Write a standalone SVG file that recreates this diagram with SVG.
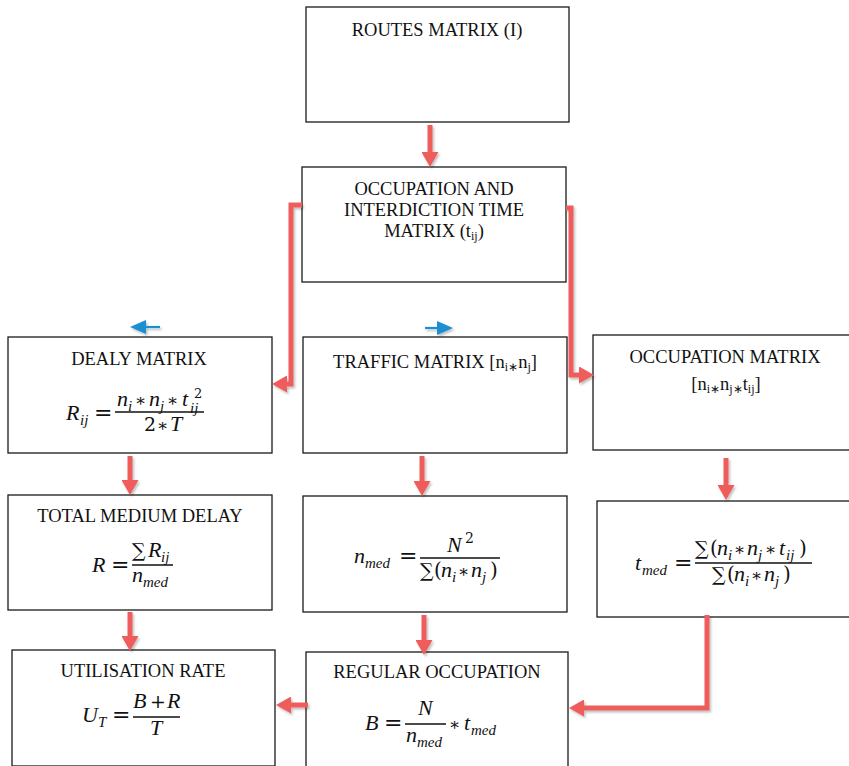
<svg xmlns="http://www.w3.org/2000/svg" width="849" height="766" viewBox="0 0 849 766">
<style>
.box{fill:#fff;stroke:#1a1a1a;stroke-width:1.3}
.lbl{font-family:"Liberation Serif","Times New Roman",serif;font-size:18.5px;fill:#111;text-anchor:middle}
.ls{font-size:12px}
.m{font-family:"Liberation Serif","Times New Roman",serif;font-style:italic;font-size:22px;fill:#111}
.s{font-size:15px}
.up{font-family:"DejaVu Serif",serif;font-style:normal;fill:#111}
.ast{font-family:"DejaVu Serif",serif;font-style:normal;font-size:17px;fill:#111}
.op{font-family:"DejaVu Serif",serif;font-size:22px;fill:#111}
.bar{stroke:#111;stroke-width:1.6}
.red{fill:none;stroke:#ee5c5c;stroke-width:5;marker-end:url(#rh)}
.blue{fill:none;stroke:#1a8fd0;stroke-width:2.2;marker-end:url(#bh)}
</style>
<defs>
<marker id="rh" markerUnits="userSpaceOnUse" markerWidth="15" markerHeight="17" refX="6" refY="8.5" orient="auto"><path d="M0,0 L15,8.5 L0,17 z" fill="#ee5c5c"/></marker>
<marker id="bh" markerUnits="userSpaceOnUse" markerWidth="16" markerHeight="14" refX="4" refY="7" orient="auto"><path d="M0,0 L16,7 L0,14 z" fill="#1a8fd0"/></marker>
<filter id="sh" x="-20%" y="-20%" width="140%" height="140%"><feDropShadow dx="1.5" dy="2" stdDeviation="1.2" flood-color="#000" flood-opacity="0.25"/></filter>
</defs>

<g id="routes">
<rect class="box" x="306" y="7" width="263" height="115"/>
<text class="lbl" x="437" y="36">ROUTES MATRIX (I)</text>
</g>

<g id="occupation-interdiction">
<rect class="box" x="302" y="167" width="264" height="115"/>
<text class="lbl" x="434" y="195">OCCUPATION AND</text>
<text class="lbl" x="434" y="216">INTERDICTION TIME</text>
<text class="lbl" x="434" y="237">MATRIX (t<tspan class="ls" dy="3">ij</tspan><tspan dy="-3">)</tspan></text>
</g>

<g id="dealy">
<rect class="box" x="8" y="337" width="264" height="116"/>
<text class="lbl" x="139" y="365">DEALY MATRIX</text>
<text class="m" x="66" y="420">R<tspan class="s" x="80" y="425">ij</tspan></text>
<text class="op" x="94" y="420">=</text>
<line class="bar" x1="115" y1="412" x2="204" y2="412"/>
<text class="m" y="406"><tspan x="117">n</tspan><tspan class="s" x="128" y="411">i</tspan><tspan class="ast" x="135" y="406">∗</tspan><tspan x="149">n</tspan><tspan class="s" x="160" y="411">j</tspan><tspan class="ast" x="167" y="406">∗</tspan><tspan x="182">t</tspan><tspan class="s" x="190" y="413">ij</tspan></text>
<text class="up" x="194" y="398" style="font-size:13px">2</text>
<text class="m" y="431"><tspan class="up" x="144" style="font-size:19px">2</tspan><tspan class="ast" x="157">∗</tspan><tspan x="170">T</tspan></text>
</g>

<g id="traffic">
<rect class="box" x="303" y="337" width="264" height="116"/>
<text class="lbl" x="435" y="368">TRAFFIC MATRIX [n<tspan class="ls" dy="3">i∗</tspan><tspan dy="-3">n</tspan><tspan class="ls" dy="3">j</tspan><tspan dy="-3">]</tspan></text>
</g>

<g id="occupation-matrix">
<rect class="box" x="593" y="335" width="262" height="115"/>
<text class="lbl" x="725" y="363">OCCUPATION MATRIX</text>
<text class="lbl" x="726" y="390">[n<tspan class="ls" dy="3">i∗</tspan><tspan dy="-3">n</tspan><tspan class="ls" dy="3">j∗</tspan><tspan dy="-3">t</tspan><tspan class="ls" dy="3">ij</tspan><tspan dy="-3">]</tspan></text>
</g>

<g id="total-delay">
<rect class="box" x="8" y="495" width="264" height="115"/>
<text class="lbl" x="140" y="522">TOTAL MEDIUM DELAY</text>
<text class="m" x="92" y="572">R</text>
<text class="op" x="111" y="572">=</text>
<line class="bar" x1="132" y1="565" x2="173" y2="565"/>
<text class="m" y="557"><tspan class="up" x="132" style="font-size:19px">∑</tspan><tspan x="148">R</tspan><tspan class="s" x="161" y="562">ij</tspan></text>
<text class="m" x="132" y="582">n<tspan class="s" x="143" y="587">med</tspan></text>
</g>

<g id="n-med">
<rect class="box" x="303" y="496" width="264" height="116"/>
<text class="m" x="354" y="563">n<tspan class="s" x="365" y="568">med</tspan></text>
<text class="op" x="399" y="563">=</text>
<line class="bar" x1="420" y1="558" x2="500" y2="558"/>
<text class="m" x="447" y="552">N</text>
<text class="up" x="465" y="543" style="font-size:14px">2</text>
<text class="m" y="577"><tspan class="up" x="420" style="font-size:19px">∑</tspan><tspan class="up" x="434" style="font-size:20px">(</tspan><tspan x="441">n</tspan><tspan class="s" x="452" y="582">i</tspan><tspan class="ast" x="458" y="577">∗</tspan><tspan x="471">n</tspan><tspan class="s" x="482" y="582">j</tspan><tspan class="up" x="490" y="577" style="font-size:20px">)</tspan></text>
</g>

<g id="t-med">
<rect class="box" x="597" y="501" width="258" height="116"/>
<text class="m" x="635" y="570">t<tspan class="s" x="642" y="575">med</tspan></text>
<text class="op" x="674" y="570">=</text>
<line class="bar" x1="695" y1="563" x2="812" y2="563"/>
<text class="m" y="555"><tspan class="up" x="695" style="font-size:19px">∑</tspan><tspan class="up" x="710" style="font-size:20px">(</tspan><tspan x="717">n</tspan><tspan class="s" x="728" y="560">i</tspan><tspan class="ast" x="734" y="555">∗</tspan><tspan x="747">n</tspan><tspan class="s" x="758" y="560">j</tspan><tspan class="ast" x="765" y="555">∗</tspan><tspan x="779">t</tspan><tspan class="s" x="786" y="560">ij</tspan><tspan class="up" x="799" y="555" style="font-size:20px">)</tspan></text>
<text class="m" y="581"><tspan class="up" x="712" style="font-size:19px">∑</tspan><tspan class="up" x="727" style="font-size:20px">(</tspan><tspan x="734">n</tspan><tspan class="s" x="745" y="586">i</tspan><tspan class="ast" x="751" y="581">∗</tspan><tspan x="764">n</tspan><tspan class="s" x="775" y="586">j</tspan><tspan class="up" x="783" y="581" style="font-size:20px">)</tspan></text>
</g>

<g id="utilisation">
<rect class="box" x="12" y="650" width="263" height="116"/>
<text class="lbl" x="143" y="677">UTILISATION RATE</text>
<text class="m" x="82" y="722">U<tspan class="s" x="98" y="727">T</tspan></text>
<text class="op" x="112" y="722">=</text>
<line class="bar" x1="133" y1="717" x2="180" y2="717"/>
<text class="m" y="708"><tspan x="133">B</tspan><tspan class="up" x="150" style="font-size:19px">+</tspan><tspan x="167">R</tspan></text>
<text class="m" x="150" y="735">T</text>
</g>

<g id="regular-occupation">
<rect class="box" x="306" y="652" width="262" height="120"/>
<text class="lbl" x="437" y="678">REGULAR OCCUPATION</text>
<text class="m" x="365" y="730">B</text>
<text class="op" x="384" y="730">=</text>
<line class="bar" x1="405" y1="724" x2="446" y2="724"/>
<text class="m" x="418" y="715">N</text>
<text class="m" x="406" y="742">n<tspan class="s" x="417" y="747">med</tspan></text>
<text class="m" y="730"><tspan class="ast" x="449">∗</tspan><tspan x="464">t</tspan><tspan class="s" x="471" y="735">med</tspan></text>
</g>

<g id="connectors" filter="url(#sh)">
<path class="red" d="M430,125 V158"/>
<path class="red" d="M302,205 H291 V384 H281"/>
<path class="red" d="M566,208 H571 V375 H585"/>
<path class="red" d="M130,456 V486"/>
<path class="red" d="M130,612 V642"/>
<path class="red" d="M422,456 V487"/>
<path class="red" d="M424,615 V646"/>
<path class="red" d="M726,458 V491"/>
<path class="red" d="M707,615 V708 H578"/>
<path class="red" d="M308,705 H285"/>
<path class="blue" d="M160,327 H142"/>
<path class="blue" d="M425,328 H441"/>
</g>
</svg>
